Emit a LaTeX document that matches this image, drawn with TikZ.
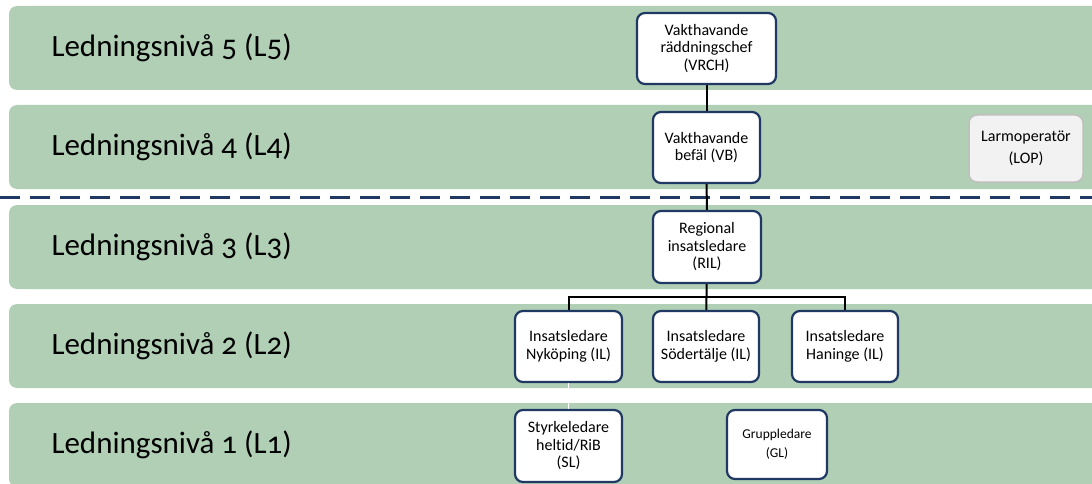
\documentclass[tikz,border=0pt]{standalone}
\usepackage{fontspec}
\setmainfont{Carlito}[Numbers=OldStyle, Ligatures=NoCommon]
\usepackage{xcolor}
\usetikzlibrary{calc}

\definecolor{bandgreen}{HTML}{B1CFB5}
\definecolor{boxnavy}{HTML}{1F3864}
\definecolor{lopgray}{HTML}{F2F2F2}
\definecolor{lopline}{HTML}{BFBFBF}

\tikzset{
	band/.style = {fill = bandgreen, rounded corners = 8pt},
	level/.style = {anchor = west, font = \fontsize{31}{34}\selectfont},
	role/.style = {draw = boxnavy, line width = 2.2pt, fill = white, rounded corners = 8pt, align = center, inner sep = 0pt, font = \fontsize{16}{17.5}\selectfont},
	link/.style = {line width = 2pt, black}
}

\begin{document}
\begin{tikzpicture}[x = 1pt, y = -1pt]
		\def\bandh{84};
		
		\useasboundingbox (0, 0) rectangle (1092, 484);
		\clip (0, 0) rectangle (1092, 484);
		
		% levels
		\foreach \n/\y in {5/6, 4/105, 3/205, 2/304, 1/403} {
			\fill [band] (9, \y) rectangle (1120, {\y + \bandh});
			\node [level] (lvl\n) at (48, {\y + \bandh/2}) {Ledningsnivå \n\ (L\n)};
		}
		
		\draw [boxnavy, line width = 3pt, dash pattern = on 20pt off 10pt] (0, 197) -- (1092, 197);
		
		% roles
		\node [role, minimum width = 139pt, minimum height = 71pt] (vrch) at (706.5, 48.5) {Vakthavande\\räddningschef\\(VRCH)};
		\node [role, minimum width = 107pt, minimum height = 71pt] (vb) at (706.5, 147.5) {Vakthavande\\befäl (VB)};
		\node [role, minimum width = 108pt, minimum height = 72pt] (ril) at (707, 247) {Regional\\insatsledare\\(RIL)};
		\node [role, minimum width = 107pt, minimum height = 71pt] (iln) at (568.5, 346.5) {Insatsledare\\Nyköping (IL)};
		\node [role, minimum width = 106pt, minimum height = 71pt] (ils) at (706, 346.5) {Insatsledare\\Södertälje (IL)};
		\node [role, minimum width = 106pt, minimum height = 71pt] (ilh) at (845, 346.5) {Insatsledare\\Haninge (IL)};
		\node [role, minimum width = 107pt, minimum height = 72pt] (sl) at (568.5, 446) {Styrkeledare\\heltid/RiB\\(SL)};
		\node [role, minimum width = 100pt, minimum height = 69pt, font = \fontsize{13.5}{19}\selectfont] (gl) at (777, 444.5) {Gruppledare\\(GL)};
		\node [role, draw = lopline, fill = lopgray, line width = 1.5pt, minimum width = 114pt, minimum height = 67pt, font = \fontsize{16}{22}\selectfont] (lop) at (1026, 148.5) {Larmoperatör\\(LOP)};
		
		% lines
		\coordinate (bar) at (ril.south |- 0, 297);
		\draw [link] (vrch) -- (vb);
		\draw [link] (vb) -- (ril);
		\draw [link] (ril) -- (ils);
		\draw [link] (iln.north) |- (bar) -| (ilh.north);
		\draw [white, line width = 1.5pt] (iln) -- (sl);
	\end{tikzpicture}
\end{document}
